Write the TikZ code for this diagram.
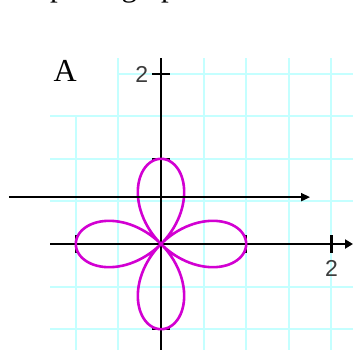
\documentclass[tikz,border=0pt]{standalone}
\usepackage{fontspec}
\setmainfont{Liberation Serif}
\newfontfamily\sansf{Liberation Sans}
\usetikzlibrary{arrows.meta}
\definecolor{gridcyan}{RGB}{196,255,255}
\definecolor{rosemag}{RGB}{210,0,210}
\definecolor{labgray}{RGB}{60,60,60}
\tikzset{
  gridline/.style={draw=gridcyan, line width=2pt},
  axisline/.style={draw=black, line width=2.5pt},
  tickline/.style={draw=black, line width=2.2pt},
  roseline/.style={draw=rosemag, line width=2.6pt},
  ticklabel/.style={font=\sansf\fontsize{23}{23}\selectfont, text=labgray, inner sep=0pt},
  arrowline/.style={draw=black, line width=1.8pt, -{Triangle[length=9pt,width=8pt]}},
}
\begin{document}
\begin{tikzpicture}[x=42.6pt,y=42.6pt]
\useasboundingbox (-161pt,-105pt) rectangle (192pt,244pt);
\fill[white] (-161pt,-105pt) rectangle (192pt,244pt);
% clipped question text at the top
\node[anchor=base west, inner sep=0pt, font=\fontsize{31}{31}\selectfont] (qtext) at (-111pt,247.5pt) {polar graph};
% grid
\foreach \yy in {-2,-1,1,2,3} \draw[gridline] (-2.6,\yy) -- (4.6,\yy);
\draw[gridline] (-1.03,4) -- (4.6,4);
\draw[gridline] (-2,-2.6) -- (-2,3);
\foreach \xx in {-1,1,2,3,4} \draw[gridline] (\xx,-2.6) -- (\xx,4.37);
% axes
\coordinate (xs) at (-2.6,0);
\coordinate (xe) at (192pt,0);
\coordinate (ys) at (0,-2.6);
\coordinate (ye) at (0,4.37);
\draw[axisline, -{Triangle[length=8pt,width=9pt]}] (xs) -- (xe);
\draw[axisline] (ys) -- (ye);
% ticks
\foreach \xx in {-2,2,4} \draw[tickline] (\xx,-0.2) -- (\xx,0.2);
\foreach \yy in {-2,2,4} \draw[tickline] (-0.2,\yy) -- (0.2,\yy);
% rose r = cos(2 theta)
\draw[roseline] plot[domain=0:360, samples=240, smooth] ({2*cos(2*\x)*cos(\x)},{2*cos(2*\x)*sin(\x)});
% tick labels
\node[ticklabel] (ylab) at (-0.45,3.98) {2};
\node[ticklabel] (xlab) at (4,-0.57) {2};
% label A
\node[inner sep=0pt, font=\fontsize{32}{32}\selectfont] (lblA) at (-2.25,4.07) {A};
% horizontal arrow
\coordinate (as) at (-3.57,1.1);
\coordinate (ae) at (3.5,1.1);
\draw[arrowline] (as) -- (ae);
\end{tikzpicture}
\end{document}
